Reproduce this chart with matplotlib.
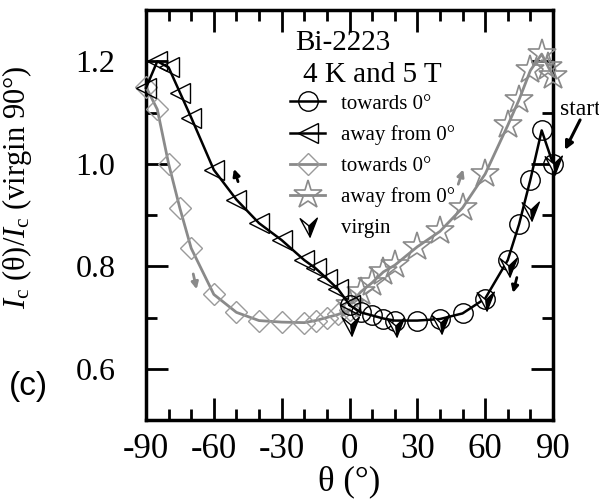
import numpy as np
import matplotlib
matplotlib.use("Agg")
import matplotlib.pyplot as plt
from matplotlib.path import Path
from matplotlib.legend_handler import HandlerTuple

# ---------------- data ----------------
circ_x = [0, 5, 10, 15, 20, 30, 40, 50, 60, 70, 75, 80, 85, 90]
circ_y = [0.724, 0.710, 0.704, 0.698, 0.694, 0.694, 0.697, 0.708, 0.737, 0.812, 0.882, 0.969, 1.065, 1.000]

tri_x = [-90, -85, -80, -75, -70, -60, -50, -40, -30, -20, -15, -10, -5, 0]
tri_y = [1.148, 1.200, 1.188, 1.139, 1.090, 0.988, 0.930, 0.884, 0.851, 0.812, 0.796, 0.776, 0.755, 0.725]

dia_x = [-90, -85, -80, -75, -70, -60, -50, -40, -30, -20, -15, -10, -5, 0]
dia_y = [1.150, 1.106, 1.000, 0.913, 0.835, 0.745, 0.710, 0.694, 0.691, 0.690, 0.694, 0.700, 0.706, 0.715]

star_x = [0, 5, 10, 15, 20, 30, 40, 50, 60, 70, 75, 80, 85, 88, 90]
star_y = [0.725, 0.750, 0.768, 0.789, 0.802, 0.838, 0.868, 0.914, 0.980, 1.075, 1.125, 1.182, 1.214, 1.188, 1.172]

virg_x = [0, 20, 40, 60, 70, 80, 90]
virg_y = [0.685, 0.683, 0.690, 0.735, 0.800, 0.910, 1.000]

xticks = [-90, -60, -30, 0, 30, 60, 90]
yticks = [0.6, 0.8, 1.0, 1.2]
label_circ = "towards 0°"
label_tri = "away from 0°"
label_dia = "towards 0°"
label_star = "away from 0°"
label_virg = "virgin"

# ---------------- style ----------------
plt.rcParams['font.family'] = ['Liberation Serif', 'DejaVu Serif']
plt.rcParams['mathtext.fontset'] = 'custom'
plt.rcParams['mathtext.rm'] = 'Liberation Serif'
plt.rcParams['mathtext.it'] = 'Liberation Serif:italic'
plt.rcParams['axes.unicode_minus'] = False

GRAY = '#8a8a8a'
GRAY_M = '#9a9a9a'

fig = plt.figure(figsize=(5.99, 5.01), dpi=100)
ax = fig.add_axes([146/599, 81/501, 407/599, 410/501])

# custom virgin marker (arrowhead, left half open, right half filled)
tip = (0.15, -1.0)
left = (-0.8, 0.75)
notch = (0.05, 0.05)
right = (0.85, 0.8)
m_open = Path([tip, left, notch, tip], [Path.MOVETO, Path.LINETO, Path.LINETO, Path.CLOSEPOLY])
m_fill = Path([tip, notch, right, tip], [Path.MOVETO, Path.LINETO, Path.LINETO, Path.CLOSEPOLY])

l_dia, = ax.plot(dia_x, dia_y, color=GRAY, lw=2.0, marker='D', ms=11, mfc='none',
                 mec=GRAY_M, mew=1.0, clip_on=False, zorder=3)
l_star, = ax.plot(star_x, star_y, color=GRAY, lw=2.0, marker='*', ms=21, mfc='none',
                  mec=GRAY, mew=1.2, clip_on=False, zorder=3)
l_tri, = ax.plot(tri_x, tri_y, color='black', lw=1.8, marker='<', ms=14, mfc='none',
                 mec='black', mew=1.0, clip_on=False, zorder=4)
l_circ, = ax.plot(circ_x, circ_y, color='black', lw=1.8, marker='o', ms=14, mfc='none',
                  mec='black', mew=1.0, clip_on=False, zorder=4)
v1, = ax.plot(virg_x, virg_y, ls='none', marker=m_open, ms=15, mfc='white',
              mec='black', mew=1.0, clip_on=False, zorder=5)
v2, = ax.plot(virg_x, virg_y, ls='none', marker=m_fill, ms=15, mfc='black',
              mec='black', mew=1.0, clip_on=False, zorder=5)

ax.set_xlim(-90, 90)
ax.set_ylim(0.5, 1.3)
ax.set_xticks(xticks)
ax.set_xticklabels([str(v) for v in xticks])
ax.set_xticks(np.arange(-80, 90, 10), minor=True)
ax.set_yticks(yticks)
ax.set_yticklabels([f"{v:.1f}" for v in yticks])
ax.set_yticks([0.7, 0.9, 1.1], minor=True)
ax.tick_params(which='both', direction='in', top=True, right=True, width=2.0)
ax.tick_params(which='major', length=16)
ax.tick_params(which='minor', length=8)
ax.tick_params(axis='x', which='major', labelsize=25, pad=9)
ax.tick_params(axis='y', which='major', labelsize=23, pad=22)
for s in ax.spines.values():
    s.set_linewidth(2.5)

ax.set_xlabel("θ (°)", fontsize=25, labelpad=0)
ax.set_ylabel(r"$I_{\rm c}$ (θ)/$I_{\rm c}$ (virgin 90°)", fontsize=22)
ax.yaxis.set_label_coords(-0.275, 0.568)

# title block
ax.text(295/599, 1 - 43/501, "Bi-2223", transform=fig.transFigure, fontsize=21,
        ha='left', va='center')
ax.text(303/599, 1 - 75/501, "4 K and 5 T", transform=fig.transFigure, fontsize=21,
        ha='left', va='center')

leg = ax.legend([l_circ, l_tri, l_dia, l_star, (v1, v2)],
                [label_circ, label_tri, label_dia, label_star, label_virg],
                handler_map={tuple: HandlerTuple(ndivide=1, pad=0)},
                loc='upper left', bbox_to_anchor=(290/599, 1 - 94/501),
                bbox_transform=fig.transFigure, frameon=False, fontsize=15,
                numpoints=1, handlelength=1.7, handletextpad=0.75,
                labelspacing=0.55, borderpad=0, borderaxespad=0)

# direction arrows
def arr(x0, y0, x1, y1, c):
    ax.annotate("", xy=(x1, y1), xytext=(x0, y0),
                arrowprops=dict(arrowstyle='-|>', color=c, lw=2.0,
                                mutation_scale=10, shrinkA=0, shrinkB=0))

arr(-49.3, 0.965, -51.1, 0.990, 'black')
arr(-69.1, 0.785, -67.6, 0.755, GRAY)
arr(48.1, 0.960, 50.3, 0.989, GRAY)
arr(74.0, 0.778, 72.3, 0.748, 'black')

ax.annotate("start", xy=(95.3, 1.027), xytext=(93.0, 1.106), fontsize=17,
            ha='left', va='center', annotation_clip=False,
            arrowprops=dict(arrowstyle='-|>', color='black', lw=2.2,
                            mutation_scale=12, shrinkA=0, shrinkB=0,
                            patchA=None, relpos=(0.5, 0)))

fig.text(28/599, 1 - 386/501, "(c)", fontsize=24, family='Liberation Sans',
         ha='center', va='center')

fig.savefig("out.png", dpi=100)
